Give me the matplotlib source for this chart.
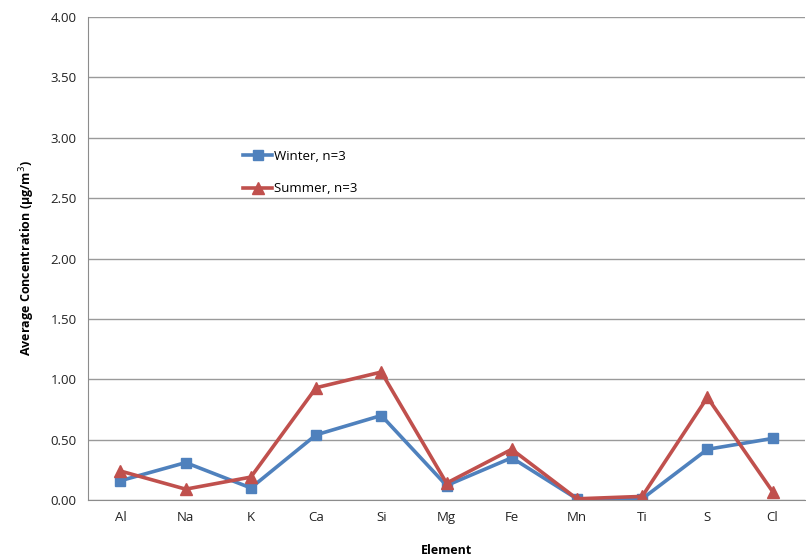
import matplotlib.pyplot as plt

# data
elements = ['Al', 'Na', 'K', 'Ca', 'Si', 'Mg', 'Fe', 'Mn', 'Ti', 'S', 'Cl']
winter = [0.16, 0.31, 0.10, 0.54, 0.70, 0.12, 0.35, 0.01, 0.01, 0.42, 0.51]
summer = [0.24, 0.09, 0.19, 0.93, 1.06, 0.14, 0.42, 0.01, 0.03, 0.85, 0.07]
yticks = [0.0, 0.5, 1.0, 1.5, 2.0, 2.5, 3.0, 3.5, 4.0]

plt.rcParams['font.family'] = ['Open Sans', 'DejaVu Sans']

fig = plt.figure(figsize=(8.06, 5.59), dpi=100)
ax = fig.add_axes([0.109, 0.1055, 0.89, 0.864])

x = range(len(elements))
ax.plot(x, winter, color='#4F81BD', lw=2.6, marker='s', ms=7, label='Winter, n=3')
ax.plot(x, summer, color='#C0504D', lw=2.6, marker='^', ms=8, label='Summer, n=3')

ax.set_xlim(-0.5, len(elements) - 0.5)
ax.set_ylim(0, 4)
ax.set_yticks(yticks)
ax.set_yticklabels(['%.2f' % v for v in yticks], fontsize=9.5, color='#222222')
ax.set_xticks(list(x))
ax.set_xticklabels(elements, fontsize=9.5, color='#222222')
ax.tick_params(axis='both', length=0, pad=8)
ax.grid(axis='y', color='#9a9a9a', lw=1)
ax.set_axisbelow(True)
for s in ['top', 'right']:
    ax.spines[s].set_visible(False)
for s in ['left', 'bottom']:
    ax.spines[s].set_color('#8c8c8c')

ax.set_xlabel('Element', fontsize=9, fontweight='bold', labelpad=14)
ax.set_ylabel('Average Concentration (\u00b5g/m$^3$)', fontsize=9, fontweight='bold', labelpad=10)

ax.legend(loc='upper left', bbox_to_anchor=(0.2, 0.75), frameon=False,
          fontsize=9.5, handlelength=2.2, handletextpad=0.1, labelspacing=1.5)

fig.savefig('out.png', dpi=100)
